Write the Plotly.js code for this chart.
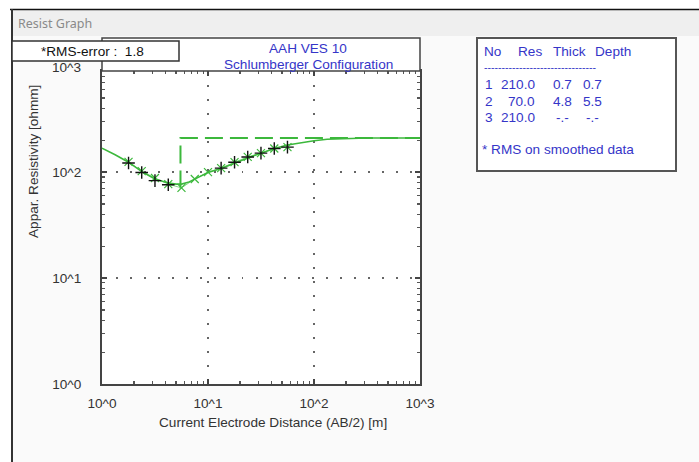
<!DOCTYPE html>
<html>
<head>
<meta charset="utf-8">
<script src="https://cdn.plot.ly/plotly-3.0.1.min.js"></script>
<style>
  html, body { margin: 0; padding: 0; background: #ffffff; }
  #chart { width: 699px; height: 462px; }
</style>
</head>
<body>
<div id="chart"></div>
<script>
// Observed apparent resistivity (AB/2 in m, rho in ohm·m)
const obsAB  = [1.78, 2.37, 3.16, 4.22, 13.3, 17.8, 23.7, 31.6, 42.2, 56.2];
const obsRho = [122, 99, 83, 76, 109, 124, 139, 151, 167, 172];

// Smoothed data used for the RMS figure
const smAB  = [1.78, 2.37, 3.16, 4.22, 5.62, 7.5, 10, 13.3, 17.8, 23.7, 31.6, 42.2, 56.2];
const smRho = [125, 102, 88, 77, 71, 86, 100, 109, 124, 139, 151, 167, 172];

// Calculated response of the layered model
const modAB  = [1.0, 1.33, 1.78, 2.37, 3.16, 4.22, 5.0, 5.62, 6.5, 7.5, 10, 13.3, 17.8, 23.7, 31.6, 42.2, 56.2, 75, 100, 133, 178, 237, 316, 1000];
const modRho = [168, 146, 124, 101, 86, 79, 77, 77, 80, 86, 99, 108, 122, 136, 151, 167, 180, 190, 198, 204, 207, 209, 210, 210];

// Layer model (step line drawn from the top of the last layer)
const stepDepth = [5.5, 5.5, 1000];
const stepRho   = [70, 210, 210];

// Layer table
const layerNo    = ['1', '2', '3'];
const layerRes   = ['210.0', '70.0', '210.0'];
const layerThick = ['0.7', '4.8', '-.-'];
const layerDepth = ['0.7', '5.5', '-.-'];
const tableHead  = ['No', 'Res', 'Thick', 'Depth'];

const xTickVals = [1, 10, 100, 1000];
const xTickText = ['10^0', '10^1', '10^2', '10^3'];
const yTickVals = [1, 10, 100];
const yTickText = ['10^0', '10^1', '10^2'];

const rmsError = '1.8';
const titleLines = ['AAH VES 10', 'Schlumberger Configuration'];

// plot-area pixel box, used to place boxes/labels in paper units
const PL = 102, PR = 420, PT = 71, PB = 384;
const fx = x => (x - PL) / (PR - PL);
const fy = y => (PB - y) / (PB - PT);

const GREEN = '#3cb83c';
const BLUE = '#3535c8';
const FONT = 'Liberation Sans, Arial, sans-serif';
const FS = 13.6;

const traces = [
  {
    x: stepDepth, y: stepRho, mode: 'lines', type: 'scatter',
    line: { color: GREEN, width: 2, dash: '18px,7px' }, hoverinfo: 'skip'
  },
  {
    x: smAB, y: smRho, mode: 'lines+markers', type: 'scatter',
    line: { color: '#8ad88a', width: 1 },
    marker: { symbol: 'x-thin-open', size: 8, color: GREEN, line: { color: GREEN, width: 1.2 } }
  },
  {
    x: modAB, y: modRho, mode: 'lines', type: 'scatter',
    line: { color: GREEN, width: 1.6 }
  },
  {
    x: obsAB, y: obsRho, mode: 'markers', type: 'scatter',
    marker: { symbol: 'cross-thin-open', size: 9, color: '#111', line: { color: '#111', width: 1.4 } }
  }
];

const axisCommon = {
  type: 'log',
  showline: true, linecolor: '#444', linewidth: 2, mirror: 'ticks',
  ticks: 'inside', ticklen: 5, tickwidth: 1.5, tickcolor: '#444',
  showgrid: true, gridcolor: '#666', gridwidth: 1.5, griddash: '1.5px,12.5px',
  zeroline: false,
  tickfont: { family: FONT, size: FS, color: '#333' },
  minor: { ticks: 'inside', ticklen: 3, tickwidth: 1.2, tickcolor: '#555', dtick: 'D1', showgrid: false }
};

const shapes = [
  // window chrome
  { type: 'rect', xref: 'paper', yref: 'paper', x0: fx(-5), x1: fx(11), y0: fy(470), y1: fy(-5),
    fillcolor: '#ffffff', line: { width: 0 }, layer: 'above' },
  { type: 'rect', xref: 'paper', yref: 'paper', x0: fx(11), x1: fx(705), y0: fy(9), y1: fy(-5),
    fillcolor: '#ffffff', line: { width: 0 }, layer: 'above' },
  { type: 'rect', xref: 'paper', yref: 'paper', x0: fx(13), x1: fx(705), y0: fy(36), y1: fy(10),
    fillcolor: '#efefef', line: { width: 0 }, layer: 'above' },
  { type: 'line', xref: 'paper', yref: 'paper', x0: fx(10), x1: fx(705), y0: fy(9.5), y1: fy(9.5),
    line: { color: '#111', width: 1.5 }, layer: 'above' },
  { type: 'line', xref: 'paper', yref: 'paper', x0: fx(12), x1: fx(12), y0: fy(9), y1: fy(470),
    line: { color: '#333', width: 2 }, layer: 'above' },
  // title box over the plot
  { type: 'rect', xref: 'paper', yref: 'paper', x0: 0, x1: 1, y0: fy(PT), y1: fy(38),
    fillcolor: '#ffffff', line: { color: '#444', width: 1.5 }, layer: 'above' },
  // RMS box
  { type: 'rect', xref: 'paper', yref: 'paper', x0: fx(12), x1: fx(179), y0: fy(61), y1: fy(41),
    fillcolor: '#ffffff', line: { color: '#333', width: 1.5 }, layer: 'above' },
  // layer table box
  { type: 'rect', xref: 'paper', yref: 'paper', x0: fx(477), x1: fx(676), y0: fy(171), y1: fy(38),
    fillcolor: '#ffffff', line: { color: '#555', width: 2 }, layer: 'above' }
];

function ann(text, xp, yp, opts) {
  return Object.assign({
    text: text, xref: 'paper', yref: 'paper', x: fx(xp), y: fy(yp),
    xanchor: 'center', yanchor: 'middle', showarrow: false,
    font: { family: FONT, size: FS, color: '#333' }
  }, opts || {});
}

const blueFont = { family: FONT, size: FS, color: BLUE };

const annotations = [
  ann('Resist Graph', 16, 23, { xanchor: 'left', font: { family: 'Noto Sans, sans-serif', size: 12.5, color: '#8a8a8a' } }),
  ann(titleLines[0], 308, 48, { font: blueFont }),
  ann(titleLines[1], 308, 64, { font: blueFont }),
  ann('*RMS-error :  ' + rmsError, 92, 51, { font: { family: FONT, size: FS, color: '#111' } }),
  ann('10^3', 66, 67),
  ann('Appar. Resistivity [ohmm]', 33, 162, { textangle: -90 }),
  ann('Current Electrode Distance (AB/2) [m]', 273, 422),
  ann(tableHead[0], 482, 51, { xanchor: 'left', font: blueFont }),
  ann(tableHead[1], 516, 51, { xanchor: 'left', font: blueFont }),
  ann(tableHead[2], 551, 51, { xanchor: 'left', font: blueFont }),
  ann(tableHead[3], 593, 51, { xanchor: 'left', font: blueFont }),
  ann('--------------------------------', 482, 67, { xanchor: 'left', font: { family: FONT, size: 10.5, color: BLUE } }),
  ann('* RMS on smoothed data', 480, 149, { xanchor: 'left', font: blueFont })
];

const rowY = [84, 101, 117];
layerNo.forEach((n, i) => {
  annotations.push(ann(n, 489, rowY[i], { font: blueFont }));
  annotations.push(ann(layerRes[i], 537, rowY[i], { xanchor: 'right', font: blueFont }));
  annotations.push(ann(layerThick[i], 562, rowY[i], { font: blueFont }));
  annotations.push(ann(layerDepth[i], 592, rowY[i], { font: blueFont }));
});

const layout = {
  width: 699, height: 462,
  margin: { l: PL, r: 699 - PR, t: PT, b: 462 - PB, pad: 0 },
  paper_bgcolor: '#fafafa',
  plot_bgcolor: '#ffffff',
  showlegend: false,
  xaxis: Object.assign({}, axisCommon, {
    range: [0, 3], tickvals: xTickVals, ticktext: xTickText, ticklabelstandoff: 6
  }),
  yaxis: Object.assign({}, axisCommon, {
    range: [0, Math.log10(900)], tickvals: yTickVals, ticktext: yTickText, ticklabelstandoff: 16
  }),
  shapes: shapes,
  annotations: annotations
};

Plotly.newPlot('chart', traces, layout, { staticPlot: true, displayModeBar: false });
</script>
</body>
</html>
